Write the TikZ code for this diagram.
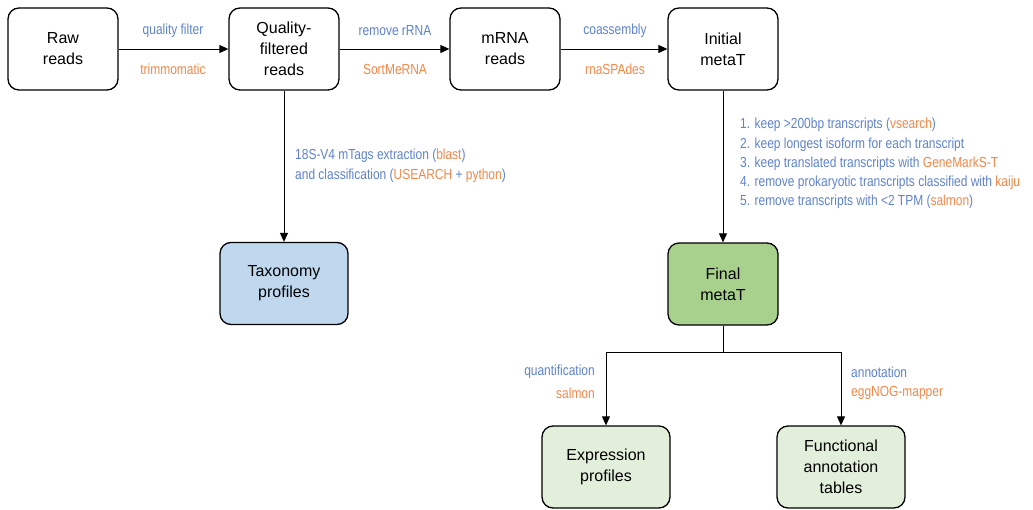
\documentclass[tikz,border=0pt]{standalone}
\usepackage{fontspec}
\setmainfont{Liberation Sans}
\newfontfamily\narrowfont[FakeStretch=0.82]{Liberation Sans}
\usetikzlibrary{arrows.meta,positioning}
\definecolor{lblblue}{HTML}{5F82CC}
\definecolor{lblorange}{HTML}{F0884A}
\definecolor{taxfill}{HTML}{BFD8EE}
\definecolor{finalfill}{HTML}{A9D18E}
\definecolor{outfill}{HTML}{E2EFDA}
\newcommand{\tl}[1]{\textcolor{lblorange}{#1}}
\tikzset{
  stage/.style={draw=black, line width=1.3pt, rounded corners=11pt, fill=white,
    minimum width=110pt, minimum height=82pt, align=center,
    font=\fontsize{16pt}{21pt}\selectfont, inner sep=0pt},
  wide/.style={minimum width=128pt},
  flow/.style={draw=black, line width=0.9pt, -{Triangle[length=9pt,width=8pt]}},
  link/.style={draw=black, line width=0.9pt},
  lbl/.style={font=\narrowfont\fontsize{14.6pt}{19.3pt}\selectfont, text=lblblue, inner sep=0pt},
  tool/.style={lbl, text=lblorange}
}
\begin{document}
\begin{tikzpicture}[x=1pt,y=-1pt]
\useasboundingbox (0,0) rectangle (1033,509);
% main pipeline
\node[stage] (raw) at (63,49) {Raw\\reads};
\node[stage] (qf) at (284,49) {Quality-\\filtered\\reads};
\node[stage] (mrna) at (505,49) {mRNA\\reads};
\node[stage] (init) at (723,49) {Initial\\metaT};
\node[stage, wide, fill=taxfill] (tax) at (284,283.5) {Taxonomy\\profiles};
\node[stage, fill=finalfill] (final) at (723,284) {Final\\metaT};
\node[stage, wide, fill=outfill] (expr) at (606,467) {Expression\\profiles};
\node[stage, wide, fill=outfill] (func) at (841,467) {Functional\\annotation\\tables};
% horizontal steps
\draw[flow] (raw) -- (qf);
\draw[flow] (qf) -- (mrna);
\draw[flow] (mrna) -- (init);
\node[lbl] (l1a) at (173,31) {quality filter};
\node[tool] (l1b) at (173,69) {trimmomatic};
\node[lbl] (l2a) at (395,31) {remove rRNA};
\node[tool] (l2b) at (395,69) {SortMeRNA};
\node[lbl] (l3a) at (615,31) {coassembly};
\node[tool] (l3b) at (615,69) {rnaSPAdes};
% taxonomy branch
\draw[flow] (qf) -- (tax);
\node[lbl, anchor=north west, align=left] (l4) at (295,149)
  {18S-V4 mTags extraction (\tl{blast})\\and classification (\tl{USEARCH} + \tl{python})};
% filtering of the assembly
\draw[flow] (init) -- (final);
\node[lbl, anchor=north west, align=left] (l5) at (740,118)
  {1. keep >200bp transcripts (\tl{vsearch})\\
   2. keep longest isoform for each transcript\\
   3. keep translated transcripts with \tl{GeneMarkS-T}\\
   4. remove prokaryotic transcripts classified with \tl{kaiju}\\
   5. remove transcripts with <2 TPM (\tl{salmon})};
% downstream outputs
\coordinate (split) at (723,352);
\draw[link] (final) -- (split);
\draw[flow] (split) -| (expr);
\draw[flow] (split) -| (func);
\node[lbl, anchor=east] (l6a) at (595,372) {quantification};
\node[tool, anchor=east] (l6b) at (595,393) {salmon};
\node[lbl, anchor=west] (l7a) at (851,372) {annotation};
\node[tool, anchor=west] (l7b) at (851,393) {eggNOG-mapper};
\end{tikzpicture}
\end{document}
